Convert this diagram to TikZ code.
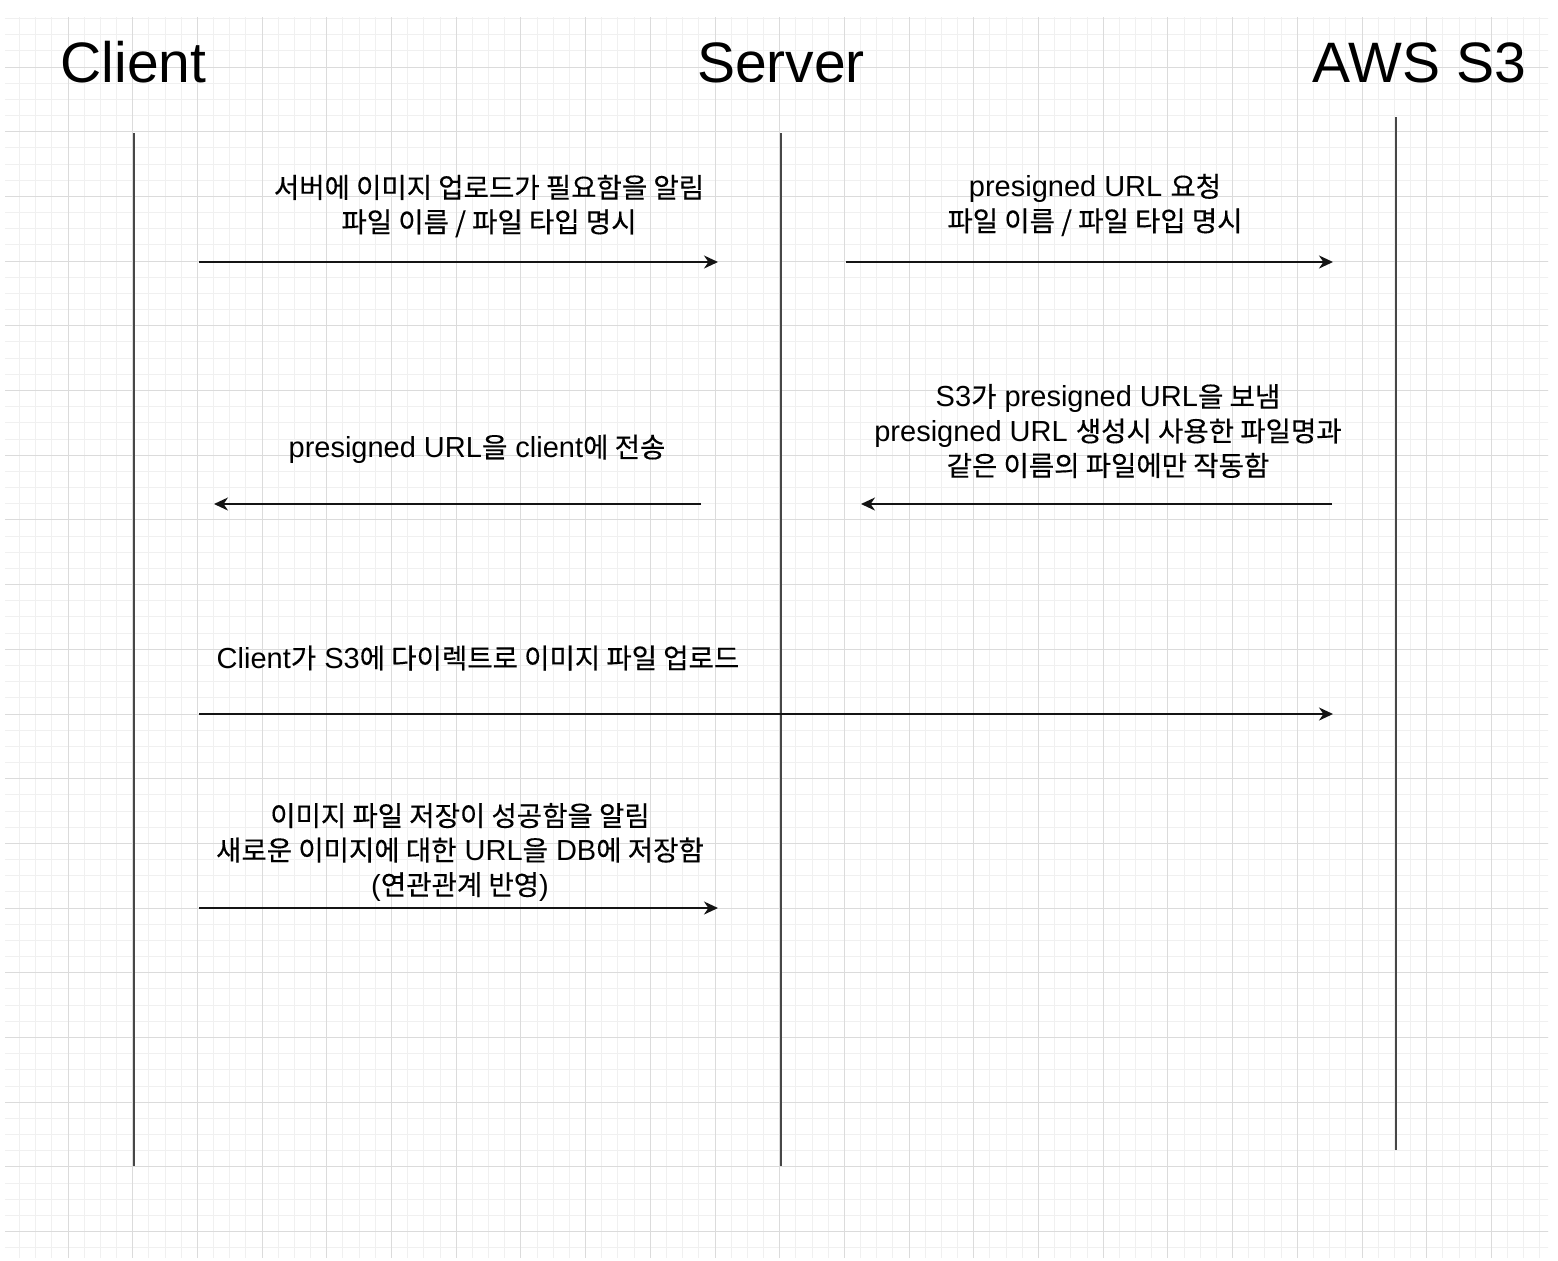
\documentclass[tikz,border=0pt]{standalone}
\usepackage{fontspec}
\setmainfont{Liberation Sans}
\newfontfamily\hgf{Noto Sans CJK KR}[Scale=0.95,FakeBold=0.35]
\newcommand\hg[1]{{\hgf #1}}
\usetikzlibrary{arrows.meta}
\begin{document}
\begin{tikzpicture}[x=0.5pt,y=-0.5pt,
  minorgrid/.style={draw=black!6, line width=0.5pt},
  majorgrid/.style={draw=black!14, line width=0.5pt},
  lifeline/.style={draw=black!72, line width=1.2pt},
  msg/.style={draw=black!92, line width=1pt, -{Stealth[length=7pt,width=6.5pt,inset=2.2pt]}},
  title/.style={font=\fontsize{28.5pt}{34pt}\selectfont, anchor=base, inner sep=0pt},
  lbl/.style={font=\fontsize{14.5pt}{17.25pt}\selectfont, align=center, inner sep=0pt}]
\path[use as bounding box] (0,0) rectangle (1558,1260);
\fill[white] (0,0) rectangle (1558,1260);
% grid
\begin{scope}
\clip (5,17) rectangle (1548,1257);
\foreach \i in {-5,...,96} \draw[minorgrid] ({68+\i*16.175},0) -- ({68+\i*16.175},1260);
\foreach \i in {-5,...,80} \draw[minorgrid] (0,{67+\i*16.175}) -- (1558,{67+\i*16.175});
\foreach \i in {-1,...,24} \draw[majorgrid] ({68+\i*64.7},0) -- ({68+\i*64.7},1260);
\foreach \i in {-1,...,20} \draw[majorgrid] (0,{67+\i*64.7}) -- (1558,{67+\i*64.7});
\end{scope}
% titles
\node[title] (tClient) at (133.5,82) {Client};
\node[title] (tServer) at (781,82) {Server};
\node[title] (tS3) at (1419.5,82) {AWS S3};
% lifelines
\coordinate (cTop) at (134,133);
\coordinate (cBot) at (134,1166);
\coordinate (sTop) at (781,133);
\coordinate (sBot) at (781,1166);
\coordinate (aTop) at (1396,117);
\coordinate (aBot) at (1396,1150);
\draw[lifeline] (cTop) -- (cBot);
\draw[lifeline] (sTop) -- (sBot);
\draw[lifeline] (aTop) -- (aBot);
% message end points
\coordinate (m1a) at (199,262);  \coordinate (m1b) at (718,262);
\coordinate (m2a) at (846,262);  \coordinate (m2b) at (1333,262);
\coordinate (m3a) at (701,504);  \coordinate (m3b) at (214,504);
\coordinate (m4a) at (1332,504); \coordinate (m4b) at (861,504);
\coordinate (m5a) at (199,714);  \coordinate (m5b) at (1333,714);
\coordinate (m6a) at (199,908);  \coordinate (m6b) at (718,908);
\draw[msg] (m1a) -- (m1b);
\draw[msg] (m2a) -- (m2b);
\draw[msg] (m3a) -- (m3b);
\draw[msg] (m4a) -- (m4b);
\draw[msg] (m5a) -- (m5b);
\draw[msg] (m6a) -- (m6b);
% labels
\node[lbl] (l1) at (489,206) {\hg{서버에 이미지 업로드가 필요함을 알림}\\\hg{파일 이름 / 파일 타입 명시}};
\node[lbl] (l2) at (1095,205) {presigned URL \hg{요청}\\\hg{파일 이름 / 파일 타입 명시}};
\node[lbl] (l3) at (477,449) {presigned URL\hg{을} client\hg{에 전송}};
\node[lbl] (l4) at (1108,431) {S3\hg{가} presigned URL\hg{을 보냄}\\presigned URL \hg{생성시 사용한 파일명과}\\\hg{같은 이름의 파일에만 작동함}};
\node[lbl] (l5) at (478,658) {Client\hg{가} S3\hg{에 다이렉트로 이미지 파일 업로드}};
\node[lbl] (l6) at (460,852) {\hg{이미지 파일 저장이 성공함을 알림}\\\hg{새로운 이미지에 대한} URL\hg{을} DB\hg{에 저장함}\\(\hg{연관관계 반영})};
\end{tikzpicture}
\end{document}
